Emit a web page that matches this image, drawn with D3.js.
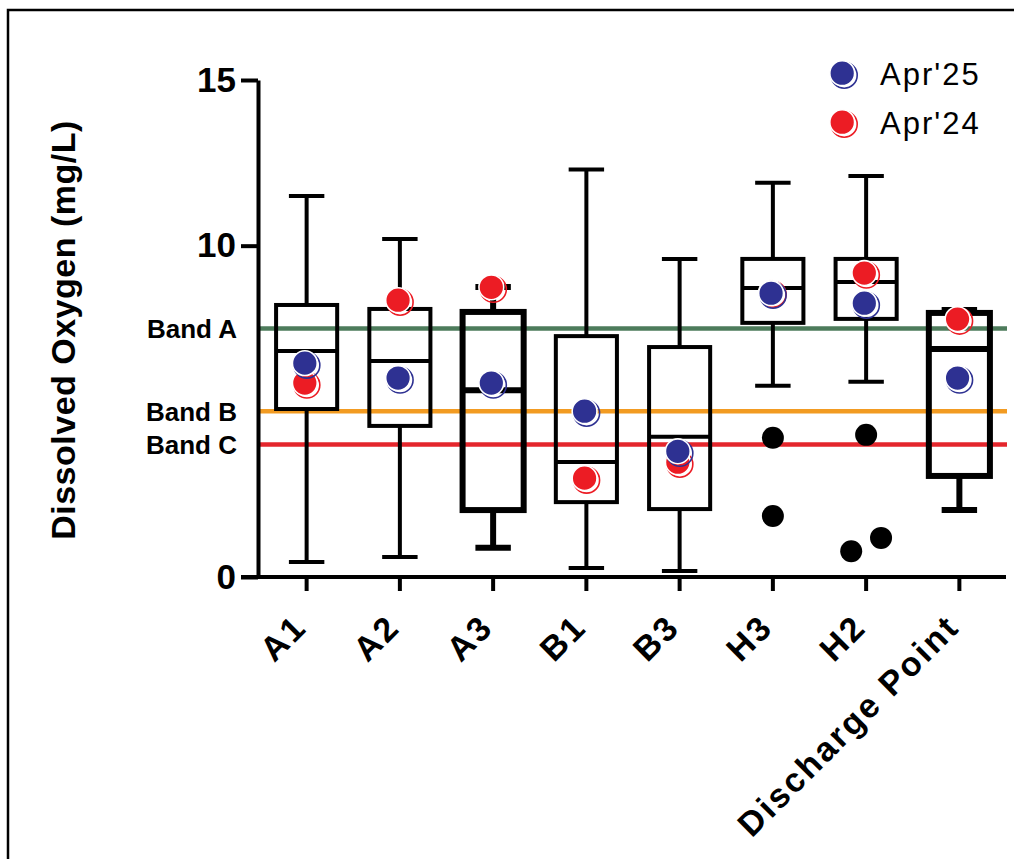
<!DOCTYPE html>
<html>
<head>
<meta charset="utf-8">
<script src="https://cdn.jsdelivr.net/npm/d3@7"></script>
<style>
  body { margin: 0; background: #fff; }
  svg { display: block; font-family: "Liberation Sans", Arial, sans-serif; }
</style>
</head>
<body>
<svg id="chart" width="1019" height="859"></svg>
<script>
// box statistics per site
const sites = ['A1', 'A2', 'A3', 'B1', 'B3', 'H3', 'H2', 'Discharge Point']
const whiskerTop = [11.5, 10.2, 8.75, 12.3, 9.6, 11.9, 12.1, 8.06]
const q3 = [8.21, 8.09, 8.0, 7.27, 6.94, 9.6, 9.6, 7.97]
const median = [6.82, 6.52, 5.64, 3.47, 4.23, 8.72, 8.9, 6.88]
const q1 = [5.07, 4.56, 2.02, 2.26, 2.05, 7.67, 7.79, 3.05]
const whiskerBottom = [0.45, 0.6, 0.88, 0.27, 0.18, 5.77, 5.89, 2.02]
const heavyBox = [false, false, true, false, false, false, false, true]

// outliers: site, value, side (-1 left, 0 centre, 1 right)
const outlierSite = ['H3', 'H3', 'H2', 'H2', 'H2']
const outlierValue = [4.2, 1.84, 4.29, 0.78, 1.18]
const outlierSide = [0, 0, 0, -1, 1]

// monthly readings
const apr24 = [5.83, 8.33, 8.72, 2.96, 3.44, 8.57, 9.15, 7.76]
const apr25 = [6.43, 5.98, 5.83, 4.98, 3.77, 8.54, 8.24, 5.98]

// reference bands
const bandNames = ['Band A', 'Band B', 'Band C']
const bandValues = [7.5, 5, 4]
const bandColors = ['#4d7b5b', '#f29b22', '#e4262c']

const yTicks = [0, 10, 15]
const blue = '#2e3192'
const red = '#ec1c24'

const svg = d3.select('#chart')

svg.append('path')
  .attr('d', 'M8,859V10H1014')
  .attr('fill', 'none')
  .attr('stroke', '#000')
  .attr('stroke-width', 2.5)

const x = d3.scaleBand().domain(sites).range([260, 1006])
const y = d3.scaleLinear().domain([0, 15]).range([577, 80])
const bw = x.bandwidth()
const cx = s => x(s) + bw / 2

// band lines
svg.append('g')
  .selectAll('line')
  .data(bandValues)
  .enter()
  .append('line')
  .attr('x1', 258)
  .attr('x2', 1007)
  .attr('y1', d => y(d))
  .attr('y2', d => y(d))
  .attr('stroke', (d, i) => bandColors[i])
  .attr('stroke-width', 4.5)

svg.append('g')
  .selectAll('text')
  .data(bandNames)
  .enter()
  .append('text')
  .attr('x', 237)
  .attr('y', (d, i) => y(bandValues[i]))
  .attr('dy', '0.36em')
  .attr('text-anchor', 'end')
  .attr('font-size', 26)
  .attr('font-weight', 'bold')
  .text(d => d)

// boxes
const boxW = bw * 0.655
const capW = bw * 0.38
const boxes = svg.append('g').attr('fill', 'none').attr('stroke', '#000')

sites.forEach((s, i) => {
  const g = boxes.append('g').attr('stroke-width', heavyBox[i] ? 6 : 4)
  const c = cx(s)
  g.append('line')
    .attr('x1', c).attr('x2', c)
    .attr('y1', y(q3[i])).attr('y2', y(whiskerTop[i]))
  g.append('line')
    .attr('x1', c).attr('x2', c)
    .attr('y1', y(q1[i])).attr('y2', y(whiskerBottom[i]))
  g.append('line')
    .attr('x1', c - capW / 2).attr('x2', c + capW / 2)
    .attr('y1', y(whiskerTop[i])).attr('y2', y(whiskerTop[i]))
  g.append('line')
    .attr('x1', c - capW / 2).attr('x2', c + capW / 2)
    .attr('y1', y(whiskerBottom[i])).attr('y2', y(whiskerBottom[i]))
  g.append('rect')
    .attr('x', c - boxW / 2)
    .attr('y', y(q3[i]))
    .attr('width', boxW)
    .attr('height', y(q1[i]) - y(q3[i]))
    .attr('fill', 'none')
  g.append('line')
    .attr('x1', c - boxW / 2).attr('x2', c + boxW / 2)
    .attr('y1', y(median[i])).attr('y2', y(median[i]))
})

svg.append('g')
  .selectAll('circle')
  .data(outlierValue)
  .enter()
  .append('circle')
  .attr('cx', (d, i) => cx(outlierSite[i]) + outlierSide[i] * bw * 0.16)
  .attr('cy', d => y(d))
  .attr('r', 11)
  .attr('fill', '#000')

// shaded marker like the original
function marker(g, px, py, color) {
  g.append('circle')
    .attr('cx', px + 1.2).attr('cy', py + 1.2).attr('r', 13)
    .attr('fill', 'none').attr('stroke', color).attr('stroke-width', 1.6)
  g.append('circle')
    .attr('cx', px - 0.8).attr('cy', py - 0.8).attr('r', 12.4)
    .attr('fill', color).attr('stroke', '#fff').attr('stroke-width', 1.6)
}

const dots = svg.append('g')
sites.forEach((s, i) => {
  marker(dots, cx(s) - 1, y(apr24[i]), red)
  marker(dots, cx(s) - 1, y(apr25[i]), blue)
})

// axes
const yAxis = svg.append('g')
  .attr('transform', 'translate(258,0)')
  .call(d3.axisLeft(y).tickValues(yTicks).tickSize(17).tickSizeOuter(0).tickPadding(5))
yAxis.select('.domain').attr('stroke-width', 4)
yAxis.selectAll('.tick line').attr('stroke-width', 4)
yAxis.selectAll('.tick text')
  .attr('font-size', 35)
  .attr('font-weight', 'bold')
  .attr('font-family', '"Liberation Sans", Arial, sans-serif')
  .attr('fill', '#000')

const xAxis = svg.append('g')
  .attr('transform', 'translate(0,577)')
  .call(d3.axisBottom(x).tickSize(14).tickSizeOuter(0))
xAxis.select('.domain').attr('stroke-width', 4).attr('d', 'M241,0H1006')
xAxis.selectAll('.tick line').attr('stroke-width', 4)
xAxis.selectAll('.tick text')
  .attr('font-size', 34)
  .attr('font-weight', 'bold')
  .attr('letter-spacing', 2.5)
  .attr('font-family', '"Liberation Sans", Arial, sans-serif')
  .attr('fill', '#000')
  .attr('text-anchor', 'end')
  .attr('x', 0)
  .attr('y', 0)
  .attr('dy', 0)
  .attr('transform', 'translate(2,52) rotate(-45)')

svg.append('text')
  .attr('transform', 'translate(75,330) rotate(-90)')
  .attr('text-anchor', 'middle')
  .attr('font-size', 34)
  .attr('font-weight', 'bold')
  .attr('letter-spacing', 0.5)
  .text('Dissolved Oxygen (mg/L)')

// legend
const legendNames = ["Apr'25", "Apr'24"]
const legendColors = [blue, red]
const lg = svg.append('g')
legendNames.forEach((n, i) => {
  const ly = 74 + i * 49
  marker(lg, 843, ly, legendColors[i])
  lg.append('text')
    .attr('x', 880)
    .attr('y', ly)
    .attr('dy', '0.36em')
    .attr('font-size', 31)
    .attr('letter-spacing', 2)
    .text(n)
})
</script>
</body>
</html>
